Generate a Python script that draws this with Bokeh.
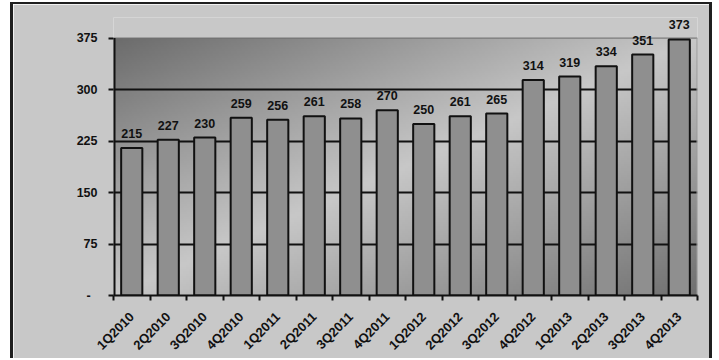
import numpy as np
from bokeh.plotting import figure
from bokeh.models import ColumnDataSource, FixedTicker, Range1d, LabelSet
from bokeh.core.properties import value
from bokeh.embed import file_html
from bokeh.resources import INLINE
from math import pi

quarters = ["1Q2010", "2Q2010", "3Q2010", "4Q2010", "1Q2011", "2Q2011", "3Q2011", "4Q2011",
            "1Q2012", "2Q2012", "3Q2012", "4Q2012", "1Q2013", "2Q2013", "3Q2013", "4Q2013"]
values = [215, 227, 230, 259, 256, 261, 258, 270, 250, 261, 265, 314, 319, 334, 351, 373]
y_ticks = [0, 75, 150, 225, 300, 375]
y_tick_labels = ["-\u00a0\u00a0", "75", "150", "225", "300", "375"]

n = len(quarters)
y_top = y_ticks[-1]
xpos = [i + 0.5 for i in range(n)]
src = ColumnDataSource(dict(x=xpos, top=values, label=[str(v) for v in values]))

FONT = "Liberation Sans"
INK = "#111111"

p = figure(width=702, height=356, output_backend="svg", toolbar_location=None,
           x_range=Range1d(0, n), y_range=Range1d(0, 405),
           min_border_left=100, min_border_right=18, min_border_top=13, min_border_bottom=64)
p.styles = {"margin-left": "10px", "margin-top": "2px",
            "border-left": "3px solid #1f1f1f", "border-top": "2px solid #1f1f1f",
            "border-right": "3px solid #1f1f1f"}
p.border_fill_color = "#c8c8c8"
p.background_fill_color = "#c8c8c8"
p.outline_line_color = None

# gradient background for the plot area (styling only)
ny, nx = 120, 200
uu, vv = np.meshgrid(np.linspace(0, 1, nx), np.linspace(1, 0, ny))
t = (uu + vv) / 2.0
g = np.where(t < 0.5, 108 + (200 - 108) * (t / 0.5), 200 - (200 - 112) * ((t - 0.5) / 0.5))
g = g.astype(np.uint32)
img = (np.uint32(255) << 24) | (g << 16) | (g << 8) | g
p.image_rgba(image=[img.astype(np.uint32)], x=0, y=0, dw=n, dh=y_top, level="image")

# plot-area edges
p.segment(x0=[0, 0], y0=[y_top, y_top], x1=[n, 0], y1=[y_top, 0],
          line_color=["#6a6a6a", INK], line_width=[1, 4])
p.segment(x0=n, y0=0, x1=n, y1=y_top, line_color="#9a9a9a", line_width=2)

p.vbar(x="x", top="top", width=0.58, source=src, fill_color="#8f8f8f",
       line_color=INK, line_width=2)

labels = LabelSet(x="x", y="top", text="label", source=src, text_align="center",
                  text_baseline="alphabetic", y_offset=10, text_font=value(FONT),
                  text_font_style="bold", text_font_size="12.5px", text_color=INK)
p.add_layout(labels)

# grid
p.xgrid.grid_line_color = None
p.ygrid.ticker = FixedTicker(ticks=y_ticks[1:-1])
p.ygrid.grid_line_color = INK
p.ygrid.grid_line_width = 2

# y axis
p.yaxis.ticker = FixedTicker(ticks=y_ticks)
p.yaxis.major_label_overrides = {v: s for v, s in zip(y_ticks, y_tick_labels)}
p.yaxis.axis_line_color = None
p.yaxis.major_tick_line_color = INK
p.yaxis.major_tick_line_width = 2
p.yaxis.major_tick_out = 5
p.yaxis.major_tick_in = 0
p.yaxis.minor_tick_line_color = None
p.yaxis.major_label_standoff = 11
p.yaxis.major_label_text_font = FONT
p.yaxis.major_label_text_font_style = "bold"
p.yaxis.major_label_text_font_size = "12.5px"
p.yaxis.major_label_text_color = INK

# x axis
p.xaxis.ticker = FixedTicker(ticks=xpos, minor_ticks=list(range(n + 1)))
p.xaxis.major_label_overrides = {x: q for x, q in zip(xpos, quarters)}
p.xaxis.major_label_orientation = pi / 4
p.xaxis.axis_line_color = INK
p.xaxis.axis_line_width = 2
p.xaxis.major_tick_line_color = None
p.xaxis.major_tick_out = 0
p.xaxis.major_tick_in = 0
p.xaxis.minor_tick_line_color = INK
p.xaxis.minor_tick_line_width = 2
p.xaxis.minor_tick_out = 5
p.xaxis.minor_tick_in = 0
p.xaxis.major_label_standoff = 14
p.xaxis.major_label_text_font = FONT
p.xaxis.major_label_text_font_style = "bold"
p.xaxis.major_label_text_font_size = "13px"
p.xaxis.major_label_text_color = INK

open("out.html", "w").write(file_html(p, INLINE))
